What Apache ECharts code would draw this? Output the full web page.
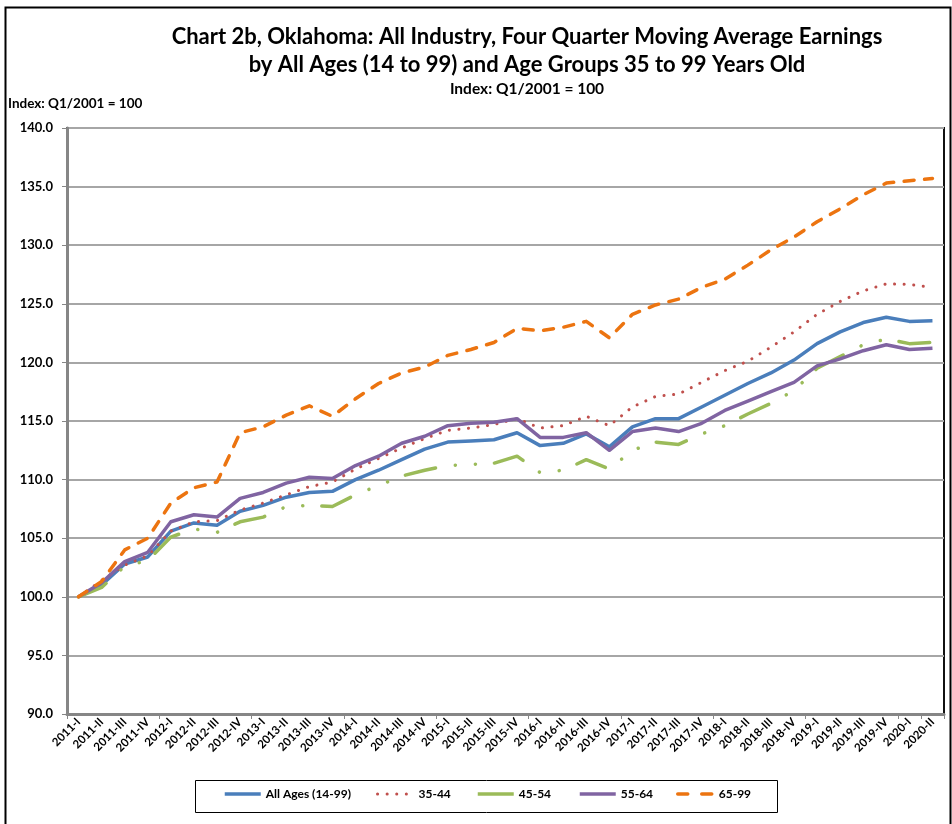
<!DOCTYPE html>
<html>
<head>
    <meta charset="utf-8">
    <title>Chart 2b Oklahoma</title>
    <style>
        html, body { margin: 0; padding: 0; background: #fff; }
        #main { width: 952px; height: 824px; }
    </style>
</head>
<body>
    <div id="main"></div>
    <script type="text/javascript" src="https://cdn.jsdelivr.net/npm/echarts@6/dist/echarts.min.js"></script>
    <script type="text/javascript">
    // quarters 2011-I .. 2020-II
    var quarters = [
        '2011-I','2011-II','2011-III','2011-IV',
        '2012-I','2012-II','2012-III','2012-IV',
        '2013-I','2013-II','2013-III','2013-IV',
        '2014-I','2014-II','2014-III','2014-IV',
        '2015-I','2015-II','2015-III','2015-IV',
        '2016-I','2016-II','2016-III','2016-IV',
        '2017-I','2017-II','2017-III','2017-IV',
        '2018-I','2018-II','2018-III','2018-IV',
        '2019-I','2019-II','2019-III','2019-IV',
        '2020-I','2020-II'
    ];

    var allAges = [100.0, 101.0, 102.8, 103.4, 105.6, 106.3, 106.1, 107.3, 107.8, 108.5,
        108.9, 109.0, 110.0, 110.8, 111.7, 112.6, 113.2, 113.3, 113.4, 114.0,
        112.9, 113.1, 113.9, 112.8, 114.5, 115.2, 115.2, 116.2, 117.2, 118.2,
        119.1, 120.2, 121.6, 122.6, 123.4, 123.85, 123.5, 123.55];
    var age3544 = [100.0, 101.4, 102.7, 103.5, 105.6, 106.4, 106.5, 107.4, 108.0, 108.7,
        109.4, 109.8, 110.9, 111.8, 112.7, 113.5, 114.2, 114.4, 114.7, 115.2,
        114.4, 114.6, 115.4, 114.6, 116.2, 117.1, 117.3, 118.3, 119.3, 120.1,
        121.3, 122.6, 124.1, 125.2, 126.1, 126.7, 126.65, 126.4];
    var age4554 = [100.0, 100.8, 102.6, 103.1, 105.1, 105.8, 105.5, 106.4, 106.8, 107.7,
        107.8, 107.7, 108.7, 109.5, 110.3, 110.8, 111.2, 111.3, 111.4, 112.0,
        110.6, 110.8, 111.7, 110.9, 112.5, 113.2, 113.0, 113.9, 114.6, 115.6,
        116.5, 117.6, 119.5, 120.5, 121.5, 122.0, 121.6, 121.7];
    var age5564 = [100.0, 101.2, 103.0, 103.8, 106.4, 107.0, 106.8, 108.4, 108.9, 109.7,
        110.2, 110.1, 111.2, 112.0, 113.1, 113.7, 114.6, 114.8, 114.9, 115.2,
        113.6, 113.6, 114.0, 112.5, 114.1, 114.4, 114.1, 114.8, 115.9, 116.7,
        117.5, 118.3, 119.7, 120.3, 121.0, 121.5, 121.1, 121.2];
    var age6599 = [100.0, 101.3, 104.0, 105.0, 108.0, 109.3, 109.8, 114.0, 114.5, 115.5,
        116.3, 115.4, 116.9, 118.2, 119.1, 119.6, 120.6, 121.1, 121.7, 122.9,
        122.7, 123.0, 123.5, 122.1, 124.1, 124.9, 125.4, 126.4, 127.1, 128.3,
        129.6, 130.7, 132.0, 133.1, 134.3, 135.3, 135.5, 135.7];

    var seriesNames = ['All Ages (14-99)', '35-44', '45-54', '55-64', '65-99'];

    var FONT = 'Lato, "Liberation Sans", sans-serif';

    var myChart = echarts.init(document.getElementById('main'));

    function lineSeries(name, data, color, width, dash) {
        return {
            name: name,
            type: 'line',
            data: data,
            symbol: 'none',
            smooth: false,
            lineStyle: {
                color: color,
                width: width,
                type: dash || 'solid',
                cap: dash ? 'round' : 'butt',
                join: 'round'
            },
            itemStyle: { color: color },
            emphasis: { disabled: true }
        };
    }

    // one legend box per entry so the spacing can follow the original
    var legendLeft = [223, 376, 476, 578, 676];
    var legendLine = [
        { width: 3.5, type: 'solid', cap: 'butt' },
        { width: 3, type: [0.1, 9.5], cap: 'round' },
        { width: 3.5, type: 'solid', cap: 'butt' },
        { width: 3.5, type: 'solid', cap: 'butt' },
        { width: 3.5, type: [10, 14], cap: 'round' }
    ];
    var legends = seriesNames.map(function (name, i) {
        return {
            data: [{ name: name, lineStyle: legendLine[i] }],
            left: legendLeft[i],
            top: 788,
            padding: 0,
            itemWidth: 36,
            itemHeight: 12,
            itemStyle: { opacity: 0 },
            selectedMode: false,
            textStyle: { fontFamily: FONT, fontWeight: 'bold', fontSize: 12, color: '#000' }
        };
    });

    var option = {
        animation: false,
        backgroundColor: '#fff',
        textStyle: { fontFamily: FONT },
        graphic: [
            // outer frame
            {
                type: 'rect', left: 3, top: 5,
                shape: { width: 945, height: 830 },
                style: { fill: 'none', stroke: '#000', lineWidth: 2 }
            },
            // legend frame
            {
                type: 'rect', left: 193, top: 778,
                shape: { width: 582, height: 32 },
                style: { fill: 'none', stroke: '#000', lineWidth: 1 }
            },
            {
                type: 'text', x: 527, y: 37,
                style: {
                    text: 'Chart 2b, Oklahoma: All Industry, Four Quarter Moving Average Earnings',
                    font: 'bold 22px ' + FONT, fill: '#000',
                    align: 'center', verticalAlign: 'middle'
                }
            },
            {
                type: 'text', x: 527, y: 65,
                style: {
                    text: 'by All Ages (14 to 99) and Age Groups 35 to 99 Years Old',
                    font: 'bold 22px ' + FONT, fill: '#000',
                    align: 'center', verticalAlign: 'middle'
                }
            },
            {
                type: 'text', x: 527, y: 89,
                style: {
                    text: 'Index: Q1/2001 = 100',
                    font: 'bold 15.5px ' + FONT, fill: '#000',
                    align: 'center', verticalAlign: 'middle'
                }
            },
            {
                type: 'text', x: 8, y: 104,
                style: {
                    text: 'Index: Q1/2001 = 100',
                    font: 'bold 13.5px ' + FONT, fill: '#000',
                    align: 'left', verticalAlign: 'middle'
                }
            }
        ],
        legend: legends,
        grid: {
            left: 67,
            top: 128,
            right: 8,
            bottom: 110,
            show: true,
            borderColor: '#111',
            borderWidth: 2,
            containLabel: false
        },
        xAxis: {
            type: 'category',
            data: quarters,
            boundaryGap: true,
            axisLine: { show: true, lineStyle: { color: '#868686', width: 3 } },
            axisTick: { show: true, interval: 3, length: 5, lineStyle: { color: '#868686', width: 1 } },
            axisLabel: {
                interval: 0,
                rotate: 45,
                margin: 6,
                fontFamily: FONT,
                fontWeight: 'bold',
                fontSize: 11.5,
                color: '#000'
            },
            splitLine: { show: false }
        },
        yAxis: {
            type: 'value',
            min: 90,
            max: 140,
            interval: 5,
            axisLine: { show: true, lineStyle: { color: '#868686', width: 3 } },
            axisTick: { show: true, length: 5, lineStyle: { color: '#868686', width: 1 } },
            axisLabel: {
                formatter: function (v) { return v.toFixed(1); },
                fontFamily: FONT,
                fontWeight: 'bold',
                fontSize: 13,
                color: '#000',
                margin: 14
            },
            splitLine: { show: true, lineStyle: { color: '#a6a6a6', width: 2 } }
        },
        series: [
            lineSeries(seriesNames[0], allAges, '#4a7ebb', 3.5),
            lineSeries(seriesNames[1], age3544, '#c0504d', 3, [0.1, 9.5]),
            lineSeries(seriesNames[2], age4554, '#9bbb59', 3.5, [31, 20, 0.1, 20, 0.1, 19]),
            lineSeries(seriesNames[3], age5564, '#8064a2', 3.5),
            lineSeries(seriesNames[4], age6599, '#ec7410', 3.5, [10, 10.5])
        ]
    };

    myChart.setOption(option);
    </script>
</body>
</html>
